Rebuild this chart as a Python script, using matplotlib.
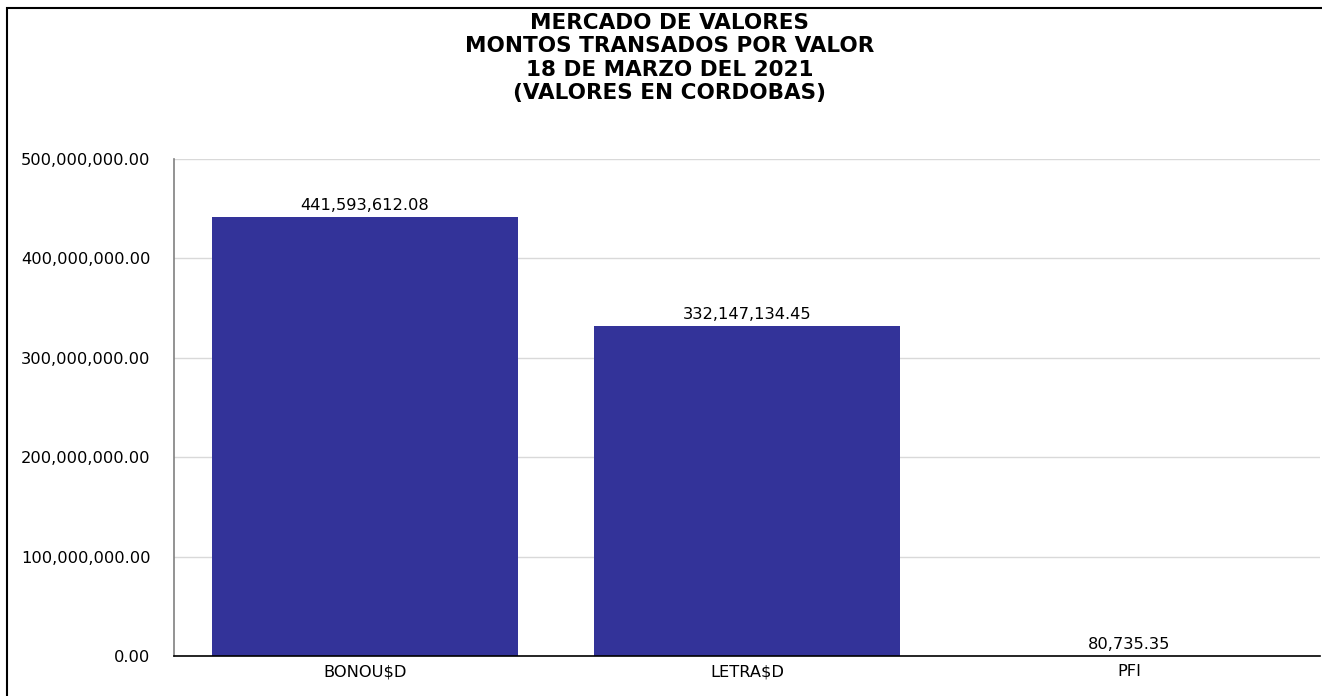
import matplotlib.pyplot as plt
from matplotlib.patches import Rectangle
from matplotlib.ticker import FuncFormatter

categories = ["BONOU$D", "LETRA$D", "PFI"]
values = [441593612.08, 332147134.45, 80735.35]
yticks = [0, 100000000, 200000000, 300000000, 400000000, 500000000]

title_lines = ["MERCADO DE VALORES", "MONTOS TRANSADOS POR VALOR",
               "18 DE MARZO DEL 2021", "(VALORES EN CORDOBAS)"]

W, H = 1322, 696
fig = plt.figure(figsize=(W / 100, H / 100), dpi=100)
plt.rcParams['font.family'] = ['DejaVu Sans']

# outer frame (only left/top visible in the original)
fig.patches.append(Rectangle((7 / W, -0.1), 1.2, 1 - 8 / H + 0.1, transform=fig.transFigure,
                             fill=False, edgecolor="black", linewidth=1.5))

ax = fig.add_axes([174 / W, 1 - 656 / H, (1320 - 174) / W, (656 - 159) / H])

x = list(range(len(categories)))
ax.bar(x, values, width=0.8, color="#333399", zorder=2)
ax.set_xlim(-0.5, 2.5)
ax.set_ylim(0, 500000000)
ax.set_yticks(yticks)
ax.yaxis.set_major_formatter(FuncFormatter(lambda v, p: f"{v:,.2f}"))
ax.set_xticks(x)
ax.set_xticklabels(categories)
ax.tick_params(axis="both", length=0, labelsize=11.7)
ax.tick_params(axis="y", pad=17)
ax.tick_params(axis="x", pad=6)
ax.grid(axis="y", color="#d9d9d9", linewidth=1, zorder=0)

for s in ["top", "right"]:
    ax.spines[s].set_visible(False)
ax.spines["left"].set_color("#808080")
ax.spines["left"].set_linewidth(1.2)
ax.spines["bottom"].set_color("black")
ax.spines["bottom"].set_linewidth(1.2)

for xi, v in zip(x, values):
    ax.annotate(f"{v:,.2f}", (xi, v), xytext=(0, 3), textcoords="offset points",
                ha="center", va="bottom", fontsize=11.7)

for i, line in enumerate(title_lines):
    fig.text(670 / W, 1 - (23 + 23.3 * i) / H, line, ha="center", va="center",
             fontsize=15.5, fontweight="bold")

fig.savefig("out.png", dpi=100)
